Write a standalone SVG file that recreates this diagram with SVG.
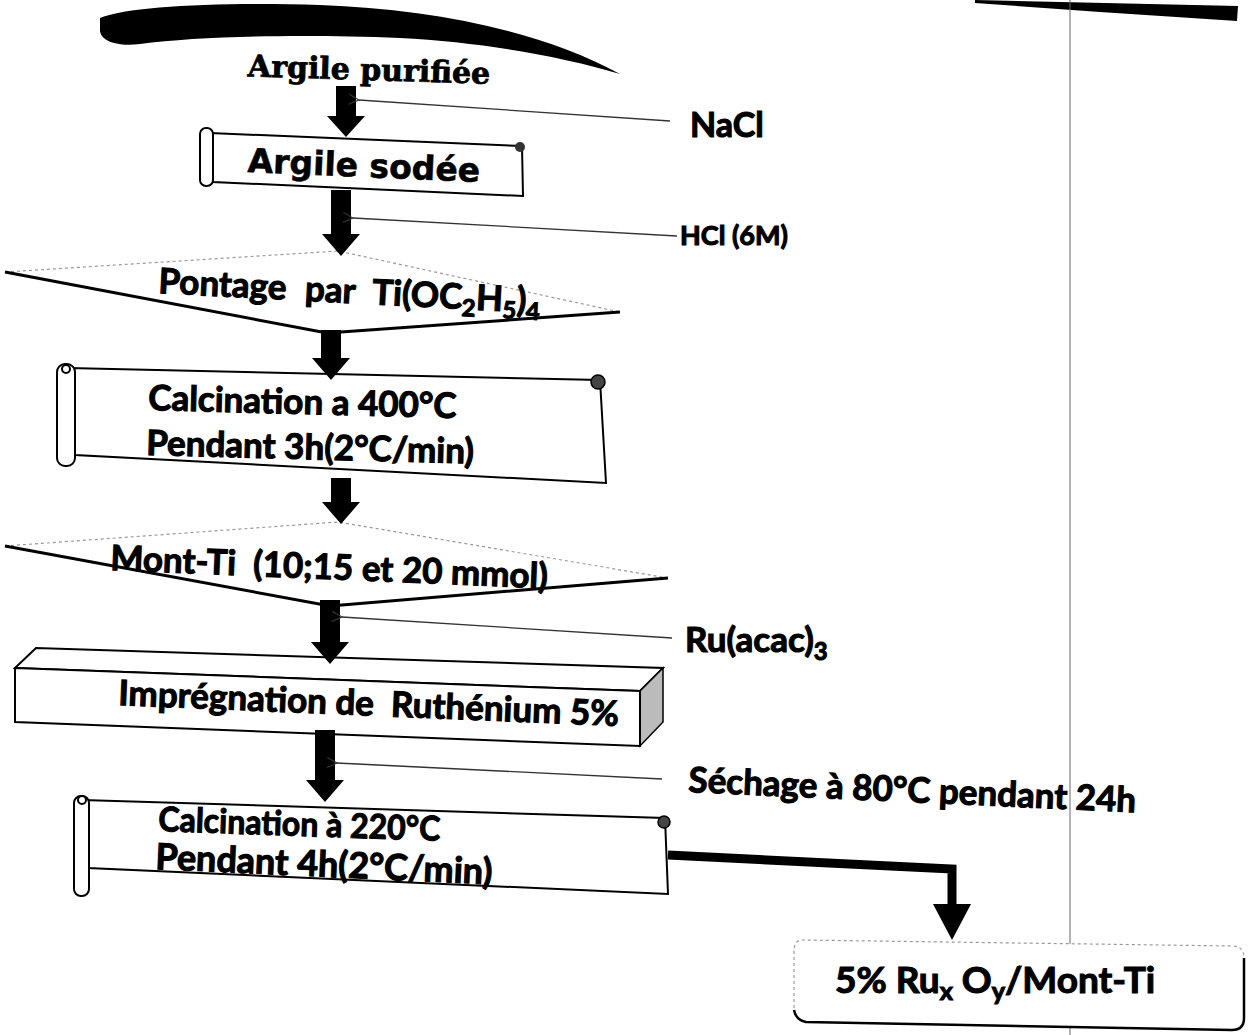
<svg xmlns="http://www.w3.org/2000/svg" width="1249" height="1035" viewBox="0 0 1249 1035">
<style>
.t{font-family:"Lato","Open Sans","Liberation Sans",sans-serif;font-weight:bold;fill:#000;stroke:#000;stroke-width:1.1}
.ser{font-family:"DejaVu Serif","Liberation Serif",serif;font-weight:bold;fill:#000;stroke:#000;stroke-width:0.8}
.hand{font-family:"DejaVu Sans","Liberation Sans",sans-serif;font-weight:bold;fill:#000;stroke:#000;stroke-width:0.6}
.box{fill:#fff;stroke:#000;stroke-width:2}
.roll{fill:#fff;stroke:#000;stroke-width:2}
.arr{fill:#000}
.thin{stroke:#333;stroke-width:1.3;fill:none}
.faint{stroke:#999;stroke-width:1.2;stroke-dasharray:3 3;fill:none}
.dark{stroke:#000;stroke-width:3;fill:none}
.sub{font-size:0.68em}
</style>
<defs>
<marker id="open" viewBox="0 0 12 12" refX="1" refY="6" markerWidth="12" markerHeight="12" markerUnits="userSpaceOnUse" orient="auto">
<path d="M11,1 L1,6 L11,11" fill="none" stroke="#333" stroke-width="1.2"/>
</marker>
</defs>
<!-- decorative scan marks -->
<path d="M100,18 C130,6 220,2 320,5 C430,9 540,30 620,74 C560,56 480,42 400,38 C300,34 200,36 140,44 C115,47 100,40 100,30 Z" fill="#000"/>
<path d="M975,0 L1238,6 L1237,21 L1100,12 L975,3 Z" fill="#000"/>
<line x1="1070" y1="0" x2="1070" y2="1035" stroke="#666" stroke-width="1"/>

<g id="n1">
<text class="ser" x="369" y="80" font-size="30" text-anchor="middle" transform="rotate(1.8 369 72)">Argile purifiée</text>
</g>

<g id="n2">
<path class="box" d="M210,133 L522,146 L523,196 L213,182 Z"/>
<rect class="roll" x="200" y="128" width="13" height="58" rx="6"/>
<circle cx="520" cy="147" r="5" fill="#333"/>
<text class="hand" x="364" y="177" font-size="33" text-anchor="middle" transform="rotate(2.5 364 165)">Argile sodée</text>
</g>

<g id="n3">
<path d="M5,272 L338,251 L620,312 L327,333 Z" fill="#fff"/>
<path class="faint" d="M5,272 L338,251 L620,312"/>
<path class="dark" d="M5,272 L327,333 L620,312"/>
<text class="t" x="158" y="293" font-size="35" word-spacing="10" transform="rotate(3 158 293)">Pontage par Ti(OC<tspan class="sub" dy="7">2</tspan><tspan dy="-7">H</tspan><tspan class="sub" dy="7">5</tspan><tspan dy="-7">)</tspan><tspan class="sub" dy="7">4</tspan></text>
</g>

<g id="n4">
<path class="box" d="M68,368 L600,380 L606,483 L75,455 Z"/>
<rect class="roll" x="57" y="364" width="18" height="102" rx="8"/>
<circle cx="66" cy="369" r="4" fill="#fff" stroke="#000" stroke-width="2"/>
<circle cx="598" cy="382" r="7" fill="#444" stroke="#000" stroke-width="1.5"/>
<text class="t" x="148" y="410" font-size="35" transform="rotate(1.5 148 410)">Calcination a 400°C</text>
<text class="t" x="146" y="455" font-size="35" transform="rotate(1.5 146 455)">Pendant 3h(2°C/min)</text>
</g>

<g id="n5">
<path d="M5,546 L338,522 L668,578 L330,606 Z" fill="#fff"/>
<path class="faint" d="M5,546 L338,522 L668,578"/>
<path class="dark" d="M5,546 L330,606 L668,578"/>
<text class="t" x="110" y="570" font-size="35" transform="rotate(2.4 110 570)">Mont-Ti&#160; (10;15 et 20 mmol)</text>
</g>

<g id="n6">
<path d="M15,668 L36,648 L663,668 L640,691 Z" fill="#fff" stroke="#000" stroke-width="2"/>
<path d="M640,691 L663,668 L663,722 L640,746 Z" fill="#bbb" stroke="#000" stroke-width="1.5"/>
<path d="M15,668 L640,691 L640,746 L15,722 Z" fill="#fff" stroke="#000" stroke-width="2"/>
<text class="t" x="118" y="705" font-size="35" transform="rotate(2.4 118 705)">Imprégnation de&#160; Ruthénium 5%</text>
</g>

<g id="n7">
<path class="box" d="M82,800 L665,818 L668,894 L88,868 Z"/>
<rect class="roll" x="74" y="796" width="15" height="100" rx="7"/>
<circle cx="82" cy="800" r="4" fill="#fff" stroke="#000" stroke-width="2"/>
<circle cx="664" cy="822" r="6" fill="#444" stroke="#000" stroke-width="1.5"/>
<text class="t" x="158" y="831" font-size="34" textLength="282" lengthAdjust="spacingAndGlyphs" transform="rotate(2 158 831)">Calcination à 220°C</text>
<text class="t" x="155" y="869" font-size="36" transform="rotate(2.6 155 869)">Pendant 4h(2°C/min)</text>
</g>

<g id="n8">
<path d="M802,940 L1232,946 Q1244,946 1244,958 L1244,1018 Q1244,1030 1232,1030 L806,1022 Q794,1020 794,1008 L794,952 Q794,940 802,940 Z" fill="#fff" stroke="none"/>
<path class="faint" d="M794,1008 L794,952 Q794,940 802,940 L1232,946 Q1244,946 1244,958"/>
<path d="M1244,958 L1244,1018 Q1244,1030 1232,1030 L806,1022 Q796,1020 794,1010" fill="none" stroke="#000" stroke-width="2.5"/>
<text class="t" x="835" y="993" font-size="37">5% Ru<tspan class="sub" dy="7">x</tspan><tspan dy="-7"> O</tspan><tspan class="sub" dy="7">y</tspan><tspan dy="-7">/Mont-Ti</tspan></text>
</g>

<g id="connectors">
<path class="arr" d="M336,86 L356,86 L356,116 L365,116 L346,137 L327,116 L336,116 Z"/>
<path class="arr" d="M331,190 L351,190 L351,234 L360,234 L341,256 L322,234 L331,234 Z"/>
<path class="arr" d="M321,330 L341,330 L341,358 L350,358 L331,380 L312,358 L321,358 Z"/>
<path class="arr" d="M331,478 L351,478 L351,502 L360,502 L341,524 L322,502 L331,502 Z"/>
<path class="arr" d="M320,600 L340,600 L340,642 L349,642 L330,664 L311,642 L320,642 Z"/>
<path class="arr" d="M315,730 L335,730 L335,780 L344,780 L325,802 L306,780 L315,780 Z"/>
<line class="thin" x1="670" y1="121" x2="359" y2="100" marker-end="url(#open)"/>
<line class="thin" x1="677" y1="236" x2="353" y2="218" marker-end="url(#open)"/>
<line class="thin" x1="672" y1="638" x2="342" y2="617" marker-end="url(#open)"/>
<line class="thin" x1="662" y1="779" x2="337" y2="763" marker-end="url(#open)"/>
<path d="M668,855 L952,869 L952,906" fill="none" stroke="#000" stroke-width="9"/>
<path class="arr" d="M933,904 L971,904 L952,940 Z"/>
<text class="t" x="690" y="137" font-size="34">NaCl</text>
<text class="t" x="680" y="245" font-size="27">HCl (6M)</text>
<text class="t" x="685" y="652" font-size="35">Ru(acac)<tspan class="sub" dy="8">3</tspan></text>
<text class="t" x="688" y="792" font-size="35" transform="rotate(2.6 688 792)">Séchage à 80°C pendant 24h</text>
</g>
</svg>
